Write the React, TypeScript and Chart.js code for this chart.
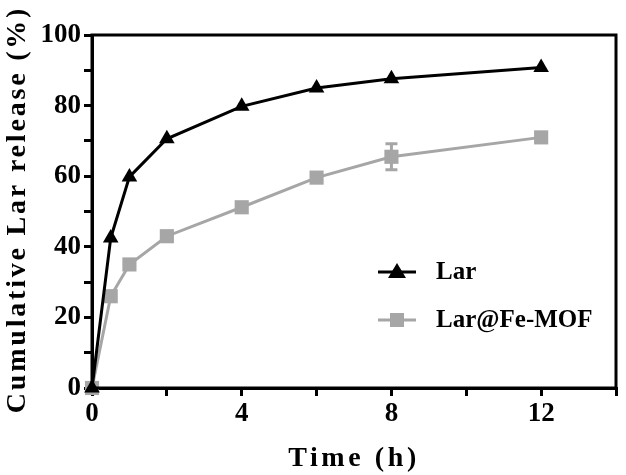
import { Chart, registerables } from 'chart.js';
import type { Plugin } from 'chart.js';
import { useEffect, useRef } from 'react';

Chart.register(...registerables);

const timePoints = [0, 0.5, 1, 2, 4, 6, 8, 12];
const larRelease = [0, 42.5, 59.8, 70.6, 79.8, 85, 87.6, 90.8];
const mofRelease = [0, 26, 35, 43, 51.2, 59.6, 65.5, 71];
const mofError = [0, 0, 0, 0, 0, 0, 3.7, 0];

const seriesNames = ['Lar', 'Lar@Fe-MOF'];
const seriesColors = ['#000000', '#a6a6a6'];
const markerStyles = ['triangle', 'rect'] as const;

const serif = "'Liberation Serif', 'Times New Roman', serif";

// error bars, frame, axis titles and legend drawn by hand
const decorPlugin: Plugin = {
  id: 'decor',
  afterDatasetsDraw(chart) {
    const { ctx, scales } = chart;
    const x = scales.x;
    const y = scales.y;
    ctx.save();
    ctx.strokeStyle = seriesColors[1];
    ctx.lineWidth = 3;
    mofError.forEach((err, i) => {
      if (!err) return;
      const px = x.getPixelForValue(timePoints[i]);
      const top = y.getPixelForValue(mofRelease[i] + err);
      const bot = y.getPixelForValue(mofRelease[i] - err);
      ctx.beginPath();
      ctx.moveTo(px, top);
      ctx.lineTo(px, bot);
      ctx.moveTo(px - 6, top);
      ctx.lineTo(px + 6, top);
      ctx.moveTo(px - 6, bot);
      ctx.lineTo(px + 6, bot);
      ctx.stroke();
    });
    ctx.restore();
  },
  afterDraw(chart) {
    const { ctx, chartArea } = chart;
    ctx.save();
    ctx.strokeStyle = '#000';
    ctx.lineWidth = 3;
    ctx.strokeRect(chartArea.left, chartArea.top, chartArea.right - chartArea.left, chartArea.bottom - chartArea.top);

    ctx.fillStyle = '#000';
    ctx.font = `bold 28px ${serif}`;
    ctx.textAlign = 'center';
    ctx.textBaseline = 'middle';
    (ctx as any).letterSpacing = '3.6px';
    ctx.fillText('Time (h)', (chartArea.left + chartArea.right) / 2, 459);
    ctx.save();
    ctx.translate(18, (chartArea.top + chartArea.bottom) / 2 - 2);
    ctx.rotate(-Math.PI / 2);
    (ctx as any).letterSpacing = '2.8px';
    ctx.fillText('Cumulative Lar release (%)', 0, 0);
    ctx.restore();

    (ctx as any).letterSpacing = '0px';
    ctx.font = `bold 25px ${serif}`;
    ctx.textAlign = 'left';
    const lx = chartArea.left + 286;
    seriesNames.forEach((name, i) => {
      const ly = chartArea.top + 237 + i * 48;
      ctx.strokeStyle = seriesColors[i];
      ctx.fillStyle = seriesColors[i];
      ctx.lineWidth = 3;
      ctx.beginPath();
      ctx.moveTo(lx, ly);
      ctx.lineTo(lx + 38, ly);
      ctx.stroke();
      if (markerStyles[i] === 'triangle') {
        ctx.beginPath();
        ctx.moveTo(lx + 19, ly - 9);
        ctx.lineTo(lx + 28, ly + 6);
        ctx.lineTo(lx + 10, ly + 6);
        ctx.closePath();
        ctx.fill();
      } else {
        ctx.fillRect(lx + 12, ly - 7, 14, 14);
      }
      ctx.fillStyle = '#000';
      ctx.fillText(name, lx + 58, ly + 1);
    });
    ctx.restore();
  },
};

export default function App() {
  const canvasRef = useRef<HTMLCanvasElement>(null);
  const chartRef = useRef<Chart | null>(null);

  useEffect(() => {
    document.body.style.margin = '0';
    const canvas = canvasRef.current;
    if (!canvas) {
      return undefined;
    }
    chartRef.current?.destroy();

    const seriesValues = [larRelease, mofRelease];

    chartRef.current = new Chart(canvas, {
      type: 'line',
      data: {
        datasets: seriesNames.map((name, i) => ({
          label: name,
          data: timePoints.map((t, j) => ({ x: t, y: seriesValues[i][j] })),
          borderColor: seriesColors[i],
          backgroundColor: seriesColors[i],
          borderWidth: 3,
          pointStyle: markerStyles[i],
          pointRadius: i === 0 ? 9 : 10,
          pointBorderWidth: 0,
          tension: 0,
          clip: false as any,
        })),
      },
      options: {
        animation: false,
        responsive: true,
        maintainAspectRatio: false,
        layout: { padding: { top: 35, right: 7, left: 0, bottom: 0 } },
        plugins: {
          legend: { display: false },
          tooltip: { enabled: false },
        },
        scales: {
          x: {
            type: 'linear',
            min: 0,
            max: 14,
            afterFit(scale) {
              scale.height = 87;
            },
            border: { color: '#000', width: 3 },
            grid: { drawOnChartArea: false, color: '#000', lineWidth: 3, tickLength: 8 },
            ticks: {
              stepSize: 2,
              autoSkip: false,
              maxRotation: 0,
              padding: 2,
              color: '#000',
              font: { family: serif, size: 27, weight: 'bold' },
              callback: (v) => (Number(v) % 4 === 0 ? String(v) : ''),
            },
          },
          y: {
            type: 'linear',
            min: 0,
            max: 100,
            afterFit(scale) {
              scale.width = 92;
            },
            border: { color: '#000', width: 3 },
            grid: { drawOnChartArea: false, color: '#000', lineWidth: 3, tickLength: 8 },
            ticks: {
              stepSize: 10,
              autoSkip: false,
              padding: 3,
              color: '#000',
              font: { family: serif, size: 27, weight: 'bold' },
              callback: (v) => (Number(v) % 20 === 0 ? String(v) : ''),
            },
          },
        },
      },
      plugins: [decorPlugin],
    });

    return () => {
      chartRef.current?.destroy();
      chartRef.current = null;
    };
  }, []);

  return (
    <div style={{ width: 626, height: 475, background: '#fff' }}>
      <canvas ref={canvasRef} aria-label="Cumulative Lar release chart" role="img" />
    </div>
  );
}
